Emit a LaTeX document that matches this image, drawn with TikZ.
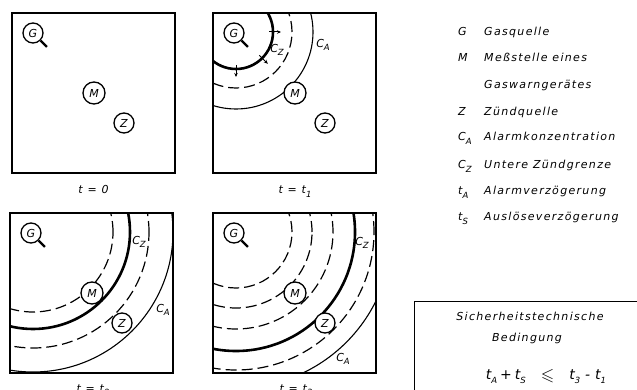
\documentclass[tikz,border=0pt]{standalone}
\usepackage{amssymb}
\usepackage{fontspec}
\usetikzlibrary{arrows.meta}
\newfontfamily\lf[LetterSpace=12]{DejaVu Sans}
\newcommand\sbs[1]{\raisebox{-0.55ex}{\fontsize{8.5}{9}\selectfont #1}}
\newcommand\drawpanel[3]{%
  \node[frame, anchor=north west] (#1) at (#2,#3) {};
  \coordinate (#1-c) at (#2+23,#3+19);
}
\newcommand\drawgmz[3]{%
  \node[circ] (#1-G) at (#2+21,#3+20) {G};
  \draw[tail] (#1-G.-45) -- ++(-45:9pt) coordinate (#1-t);
  \node[circ, minimum size=22pt] (#1-M) at (#2+82,#3+80) {M};
  \node[circ] (#1-Z) at (#2+112,#3+110) {Z};
}
\begin{document}
\begin{tikzpicture}[x=1pt,y=-1pt,
  frame/.style={draw, line width=1.6pt, minimum width=163pt, minimum height=160pt, inner sep=0pt, outer sep=0pt},
  circ/.style={circle, draw, line width=1.3pt, fill=white, minimum size=20pt, inner sep=0pt, font=\lf\itshape\fontsize{11}{10}\selectfont},
  tail/.style={line width=2.2pt},
  dsh/.style={line width=1.2pt, dash pattern=on 11pt off 5pt},
  thk/.style={line width=2.6pt},
  thn/.style={line width=1.1pt},
  lab/.style={font=\lf\itshape\fontsize{11}{12}\selectfont, inner sep=0pt},
  arr/.style={line width=1pt, -{Stealth[length=4pt,width=3.5pt]}},
  ]
\useasboundingbox (0,0) rectangle (637,390);

% panels
\drawpanel{P1}{12}{13}
\drawpanel{P2}{213}{13}
\drawpanel{P3}{10}{213}
\drawpanel{P4}{213}{213}

% arcs
\begin{scope}
\clip (P2.north west) rectangle (P2.south east);
\draw[thk] (P2-c) circle[radius=37pt];
\draw[dsh] (P2-c) circle[radius=56pt];
\draw[thn] (P2-c) circle[radius=77pt];
\end{scope}
\begin{scope}
\clip (P3.north west) rectangle (P3.south east);
\draw[dsh] (P3-c) circle[radius=80pt];
\draw[thk] (P3-c) circle[radius=97pt];
\draw[dsh] (P3-c) circle[radius=116pt];
\draw[thn] (P3-c) circle[radius=140pt];
\end{scope}
\begin{scope}
\clip (P4.north west) rectangle (P4.south east);
\draw[dsh] (P4-c) circle[radius=56pt];
\draw[dsh] (P4-c) circle[radius=76pt];
\draw[dsh] (P4-c) circle[radius=97pt];
\draw[thk] (P4-c) circle[radius=119pt];
\draw[dsh] (P4-c) circle[radius=138pt];
\draw[thn] (P4-c) circle[radius=156pt];
\end{scope}

% expansion arrows
\foreach \a in {0,-45,-90}{
  \draw[arr] ([shift={(\a:33pt)}]P2-c) -- ([shift={(\a:45pt)}]P2-c);
}

% sources, measuring points, ignition sources
\drawgmz{P1}{12}{13}
\drawgmz{P2}{213}{13}
\drawgmz{P3}{10}{213}
\drawgmz{P4}{213}{213}

% concentration labels
\node[lab] (P2-cz) at (277,50) {C\sbs{Z}};
\node[lab] (P2-ca) at (323,45) {C\sbs{A}};
\node[lab] (P3-cz) at (139,242) {C\sbs{Z}};
\node[lab] (P3-ca) at (163,310) {C\sbs{A}};
\node[lab] (P4-cz) at (362,243) {C\sbs{Z}};
\node[lab] (P4-ca) at (343,359) {C\sbs{A}};

% time labels
\node[lab, anchor=base] (T1) at (93.5,194) {t = 0};
\node[lab, anchor=base] (T2) at (295,194) {t = t\sbs{1}};
\node[lab, anchor=base] (T3) at (93,392) {t = t\sbs{2}};
\node[lab, anchor=base] (T4) at (296,392) {t = t\sbs{3}};

% legend
\foreach \n/\s/\t/\y in {LG/G/Gasquelle/36, LM/M/Meßstelle eines/62, LW//Gaswarngerätes/89, LZ/Z/Zündquelle/116, LCA/C\sbs{A}/Alarmkonzentration/141, LCZ/C\sbs{Z}/Untere Zündgrenze/169, LTA/t\sbs{A}/Alarmverzögerung/195, LTS/t\sbs{S}/Auslöseverzögerung/221}{
  \node[lab, anchor=base west] (\n-s) at (458,\y) {\s};
  \node[lab, anchor=base west] (\n-t) at (484,\y) {\t};
}

% condition box
\node[draw, line width=1.4pt, anchor=north west, minimum width=240pt, minimum height=110pt, inner sep=0pt] (box) at (414,301) {};
\node[lab, anchor=base] (b1) at (530,320) {Sicherheitstechnische};
\node[lab, anchor=base] (b2) at (527,341) {Bedingung};
\node[lab, anchor=base, font=\lf\itshape\fontsize{14}{15}\selectfont] (b3) at (546,379) {t\sbs{A}\hspace{3pt}+\hspace{3pt}t\sbs{S}\hspace{15pt}\raisebox{-1pt}{\LARGE\boldmath$\leqslant$}\hspace{15pt}t\sbs{3}\hspace{5pt}-\hspace{5pt}t\sbs{1}};
\end{tikzpicture}
\end{document}
